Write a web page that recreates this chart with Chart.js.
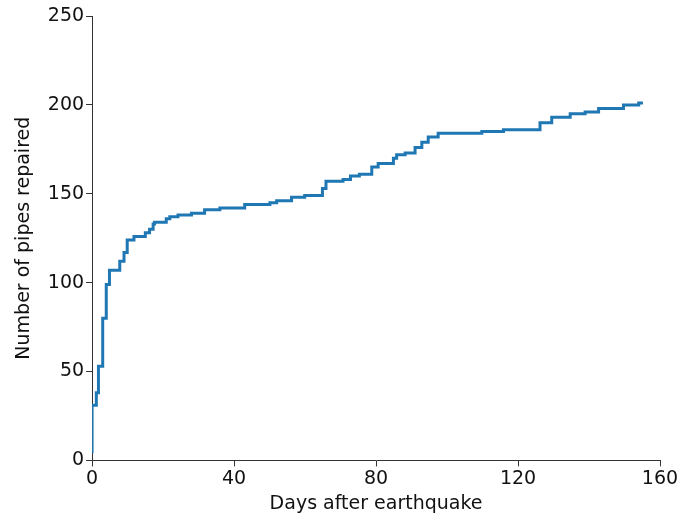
<!DOCTYPE html>
<html>
<head>
<meta charset="utf-8">
<script src="https://cdn.jsdelivr.net/npm/chart.js@4"></script>
<style>
  html, body { margin: 0; padding: 0; background: #fff; }
  #wrap { width: 680px; height: 516px; }
</style>
</head>
<body>
<div id="wrap"><canvas id="chart"></canvas></div>
<script>
// day on which each repair step happens, and the running total after it
const repairDays = [0, 0, 1.2, 1.8, 3.0, 4.0, 4.9, 7.8, 9.0, 9.9, 11.8, 15.0, 16.2, 17.2, 17.6,
  20.9, 21.9, 24.2, 28.0, 31.7, 36.0, 43.0, 50.1, 52.0, 56.2, 59.9, 64.9, 65.9, 70.7, 72.8,
  75.3, 78.8, 80.6, 84.9, 85.8, 88.2, 91.0, 92.9, 94.7, 97.5, 109.8, 115.9, 126.2, 129.5,
  134.7, 138.9, 142.7, 149.7, 154.0, 155.2];
const pipesRepaired = [4, 31, 38, 53, 80, 99, 107, 112, 117, 124, 126, 128, 130, 133, 134,
  136, 137, 138, 139, 141, 142, 144, 145, 146, 148, 149, 153, 157, 158, 160,
  161, 165, 167, 170, 172, 173, 176, 179, 182, 184, 185, 186, 190, 193,
  195, 196, 198, 200, 201, 201];
const xTicks = [0, 40, 80, 120, 160];
const yTicks = [0, 50, 100, 150, 200, 250];

const FONT = "'DejaVu Sans', sans-serif";

const points = repairDays.map((d, i) => ({ x: d, y: pipesRepaired[i] }));

function axis(min, max, tickList, title, tickPad, padTitle) {
  return {
    type: "linear",
    min: min,
    max: max,
    afterBuildTicks: (scale) => {
      scale.ticks = tickList.map((v) => ({ value: v }));
    },
    ticks: { color: "#111", font: { family: FONT, size: 19 }, padding: tickPad, maxRotation: 0, autoSkip: false },
    grid: { display: true, drawOnChartArea: false, drawTicks: true, tickLength: 6, color: "#333", lineWidth: 1 },
    border: { display: true, color: "#333", width: 1 },
    title: { display: true, text: title, color: "#111", font: { family: FONT, size: 19 }, padding: padTitle },
  };
}

new Chart(document.getElementById("chart"), {
  type: "line",
  data: {
    datasets: [
      {
        data: points,
        stepped: true,
        borderColor: "#1f77b4",
        borderWidth: 3,
        pointRadius: 0,
        fill: false,
      },
    ],
  },
  options: {
    responsive: true,
    maintainAspectRatio: false,
    animation: false,
    layout: { padding: { left: 13, right: 20, top: 16, bottom: 1 } },
    plugins: { legend: { display: false }, tooltip: { enabled: false } },
    scales: {
      x: axis(0, 160, xTicks, "Days after earthquake", 1, { top: 1, bottom: 0 }),
      y: axis(0, 250, yTicks, "Number of pipes repaired", 2, { top: 0, bottom: 10 }),
    },
  },
});
</script>
</body>
</html>
